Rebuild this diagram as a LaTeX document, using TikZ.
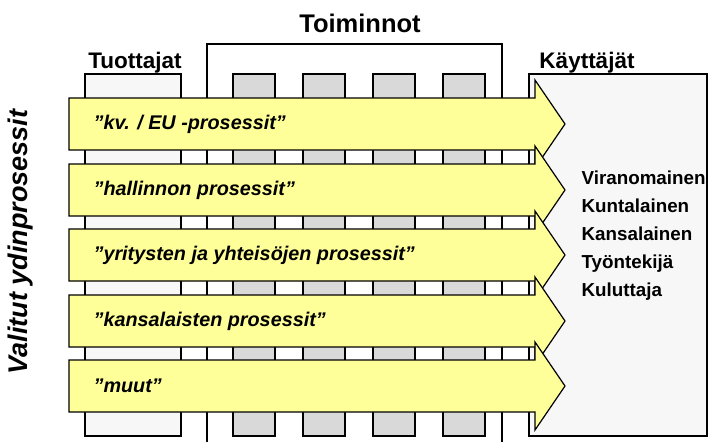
\documentclass[tikz,border=0pt]{standalone}
\usepackage{fontspec}
\setmainfont{Liberation Sans}

\definecolor{lanefill}{HTML}{FFFF99}
\definecolor{colgray}{HTML}{D9D9D9}
\definecolor{boxgray}{HTML}{F7F7F7}

\begin{document}
\begin{tikzpicture}[x=1pt, y=-1pt, line width=1.2pt,
    hdr/.style={font=\bfseries\fontsize{22.5}{26}\selectfont, anchor=base, inner sep=0pt},
    sidebox/.style={draw, fill=boxgray},
    col/.style={draw, fill=colgray},
    lane/.style={draw, fill=lanefill, line join=miter},
    lanetext/.style={font=\bfseries\itshape\fontsize{19.8}{23}\selectfont, anchor=west, inner sep=0pt}]
  \useasboundingbox (0,0) rectangle (708,442);

  % Toiminnot frame, open at the bottom
  \draw (207,442) -- (207,44) -- (502,44) -- (502,442);

  \node[hdr, font=\bfseries\fontsize{25.5}{30}\selectfont] (toim) at (360,32) {Toiminnot};
  \node[hdr] (tuot) at (135,68) {Tuottajat};
  \node[hdr] (kayt) at (587,68) {Käyttäjät};

  \draw[sidebox] (85,74) rectangle (181,436);
  \foreach \x in {233,303,373,443}
    \draw[col] (\x,74) rectangle +(42,362);
  \draw[sidebox] (529,74) rectangle (707,436);

  % process arrows
  \foreach \c/\t [count=\i] in {124/{”kv. / EU -prosessit”},
                               190/{”hallinnon prosessit”},
                               255/{”yritysten ja yhteisöjen prosessit”},
                               321/{”kansalaisten prosessit”},
                               386/{”muut”}} {
    \draw[lane] (69,\c-26) -- (535,\c-26) -- (535,\c-44) -- (565,\c)
      -- (535,\c+44) -- (535,\c+26) -- (69,\c+26) -- cycle;
    \node[lanetext] (lane\i) at (93,\c) {\t};
  }

  \node[anchor=west, align=left, inner sep=0pt,
        font=\bfseries\fontsize{18.8}{28}\selectfont] (users) at (581,236)
    {Viranomainen\\Kuntalainen\\Kansalainen\\Työntekijä\\Kuluttaja};

  \node[rotate=90, inner sep=0pt, font=\bfseries\itshape\fontsize{27}{32}\selectfont]
    (valitut) at (21,242) {Valitut ydinprosessit};
\end{tikzpicture}
\end{document}
